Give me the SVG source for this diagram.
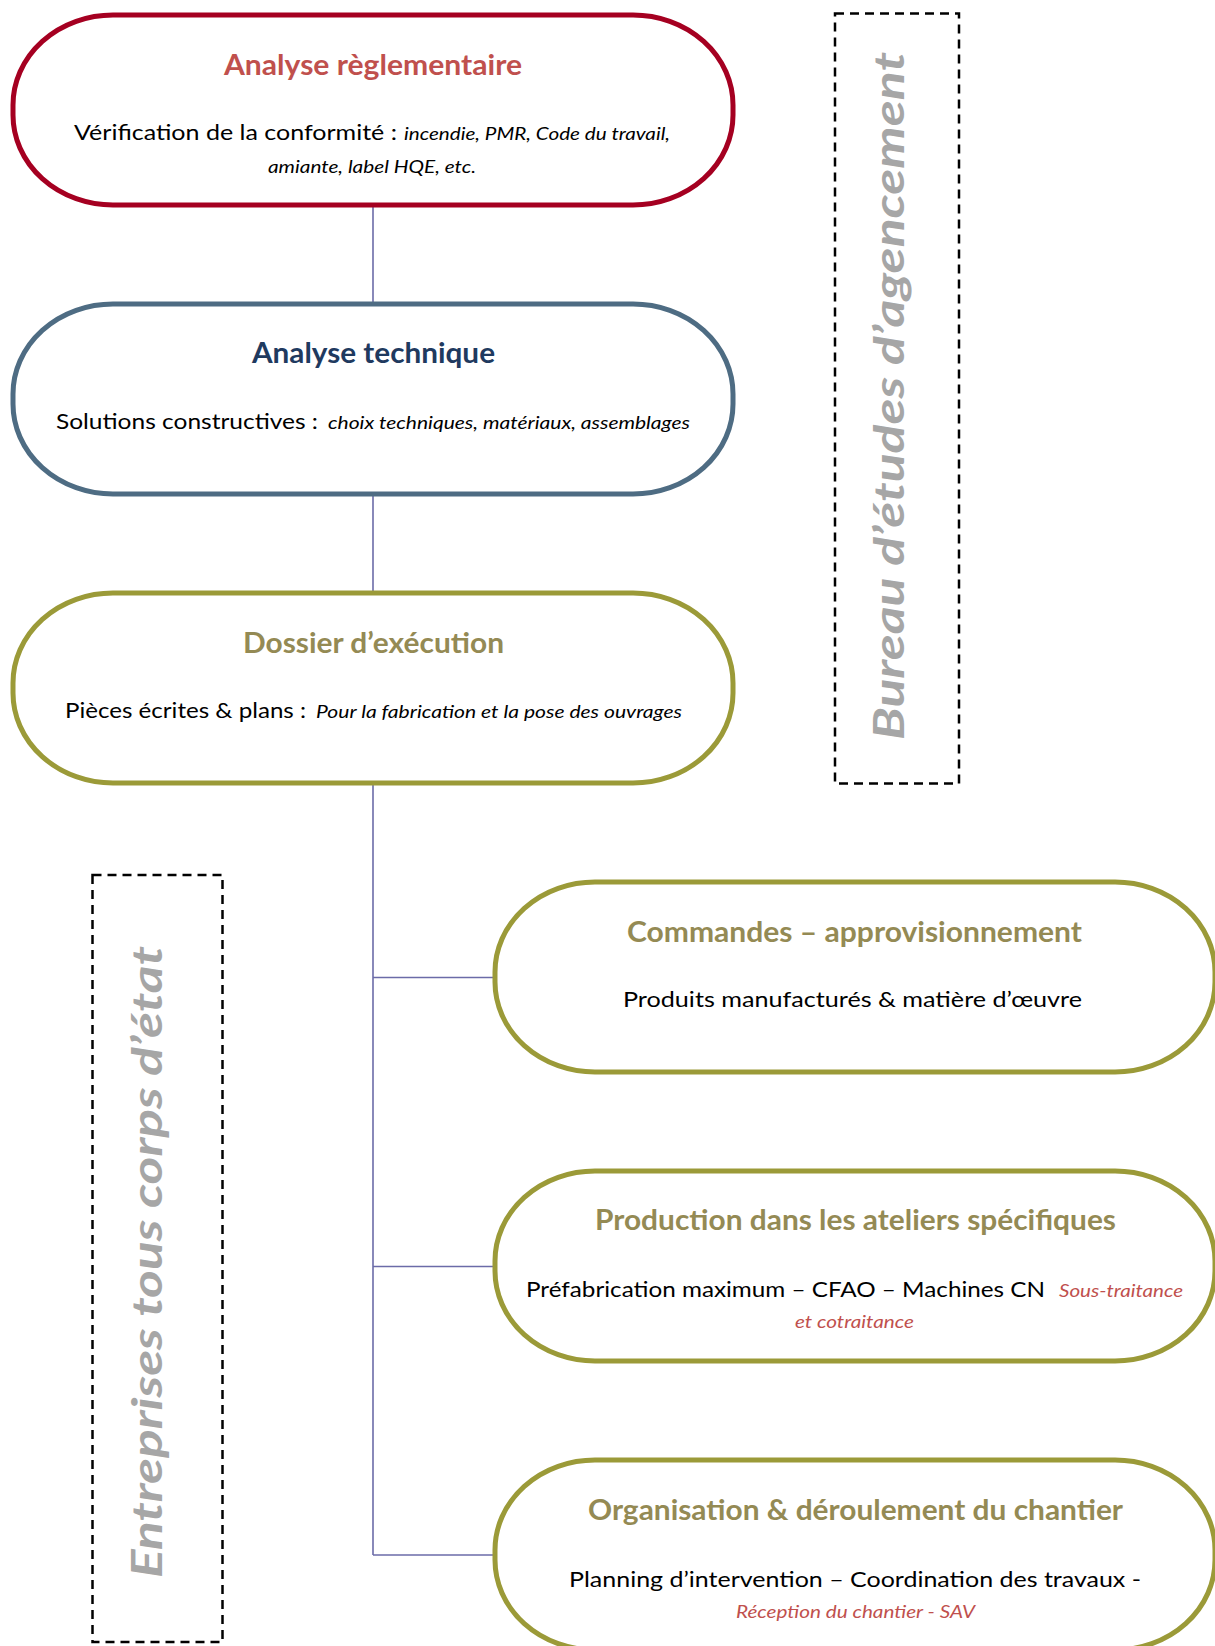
<svg xmlns="http://www.w3.org/2000/svg" width="1215" height="1646" viewBox="0 0 1215 1646">
<style>
.node{fill:#ffffff;stroke-width:5}
.n1{stroke:#A50021}
.n2{stroke:#4E6C83}
.n3{stroke:#9B9A38}
text{font-family:Lato,"Liberation Sans",sans-serif}
.t{font-weight:bold;font-size:28px}
.b{font-size:22px;fill:#000}
.i{font-style:italic;font-size:18px;fill:#000}
.r{font-style:italic;font-size:18px;fill:#C0504D}
.side{font-weight:bold;font-style:italic;font-size:42px;fill:#A6A6A6}
.dash{fill:none;stroke:#000;stroke-width:2.5;stroke-dasharray:9 6}
.conn{fill:none;stroke:#6B6BA8;stroke-width:1.6}
</style>
<rect width="1215" height="1646" fill="#ffffff"/>
<g id="connectors">
<line class="conn" x1="373" y1="207" x2="373" y2="302"/>
<line class="conn" x1="373" y1="496" x2="373" y2="591"/>
<line class="conn" x1="373" y1="785" x2="373" y2="1555"/>
<line class="conn" x1="373" y1="977.5" x2="493" y2="977.5"/>
<line class="conn" x1="373" y1="1266.5" x2="493" y2="1266.5"/>
<line class="conn" x1="373" y1="1555" x2="493" y2="1555"/>
</g>
<g id="bureau">
<rect class="dash" x="835" y="13.5" width="124" height="770"/>
<text class="side" transform="translate(904,740) rotate(-90)" textLength="688" lengthAdjust="spacingAndGlyphs">Bureau d’études d’agencement</text>
</g>
<g id="entreprises">
<rect class="dash" x="92.5" y="875" width="130" height="767"/>
<text class="side" transform="translate(162,1578) rotate(-90)" textLength="632" lengthAdjust="spacingAndGlyphs">Entreprises tous corps d’état</text>
</g>
<g id="node1">
<rect class="node n1" x="13" y="15" width="720" height="190" rx="100" ry="90"/>
<text class="t" x="224" y="75" fill="#C0504D" textLength="298" lengthAdjust="spacingAndGlyphs">Analyse règlementaire</text>
<text class="b" x="74" y="140" textLength="323" lengthAdjust="spacingAndGlyphs">Vérification de la conformité :</text>
<text class="i" x="404" y="140" textLength="266" lengthAdjust="spacingAndGlyphs">incendie, PMR, Code du travail,</text>
<text class="i" x="268" y="173" textLength="208" lengthAdjust="spacingAndGlyphs">amiante, label HQE, etc.</text>
</g>
<g id="node2">
<rect class="node n2" x="13" y="304" width="720" height="190" rx="100" ry="90"/>
<text class="t" x="252" y="363" fill="#1F3A5F" textLength="243" lengthAdjust="spacingAndGlyphs">Analyse technique</text>
<text class="b" x="56" y="429" textLength="262" lengthAdjust="spacingAndGlyphs">Solutions constructives :</text>
<text class="i" x="328" y="429" textLength="362" lengthAdjust="spacingAndGlyphs">choix techniques, matériaux, assemblages</text>
</g>
<g id="node3">
<rect class="node n3" x="13" y="593" width="720" height="190" rx="100" ry="90"/>
<text class="t" x="243" y="653" fill="#948A54" textLength="261" lengthAdjust="spacingAndGlyphs">Dossier d’exécution</text>
<text class="b" x="65" y="718" textLength="241" lengthAdjust="spacingAndGlyphs">Pièces écrites &amp; plans :</text>
<text class="i" x="316" y="718" textLength="366" lengthAdjust="spacingAndGlyphs">Pour la fabrication et la pose des ouvrages</text>
</g>
<g id="node4">
<rect class="node n3" x="495" y="882" width="720" height="190" rx="100" ry="90"/>
<text class="t" x="627" y="942" fill="#948A54" textLength="455" lengthAdjust="spacingAndGlyphs">Commandes – approvisionnement</text>
<text class="b" x="623" y="1007" textLength="459" lengthAdjust="spacingAndGlyphs">Produits manufacturés &amp; matière d’œuvre</text>
</g>
<g id="node5">
<rect class="node n3" x="495" y="1171" width="720" height="190" rx="100" ry="90"/>
<text class="t" x="595" y="1230" fill="#948A54" textLength="521" lengthAdjust="spacingAndGlyphs">Production dans les ateliers spécifiques</text>
<text class="b" x="526" y="1297" textLength="519" lengthAdjust="spacingAndGlyphs">Préfabrication maximum – CFAO – Machines CN</text>
<text class="r" x="1059" y="1297" textLength="124" lengthAdjust="spacingAndGlyphs">Sous-traitance</text>
<text class="r" x="795" y="1328" textLength="119" lengthAdjust="spacingAndGlyphs">et cotraitance</text>
</g>
<g id="node6">
<rect class="node n3" x="495" y="1460" width="720" height="190" rx="100" ry="90"/>
<text class="t" x="588" y="1520" fill="#948A54" textLength="535" lengthAdjust="spacingAndGlyphs">Organisation &amp; déroulement du chantier</text>
<text class="b" x="569" y="1587" textLength="572" lengthAdjust="spacingAndGlyphs">Planning d’intervention – Coordination des travaux  -</text>
<text class="r" x="736" y="1618" textLength="239" lengthAdjust="spacingAndGlyphs">Réception du chantier - SAV</text>
</g>
</svg>
